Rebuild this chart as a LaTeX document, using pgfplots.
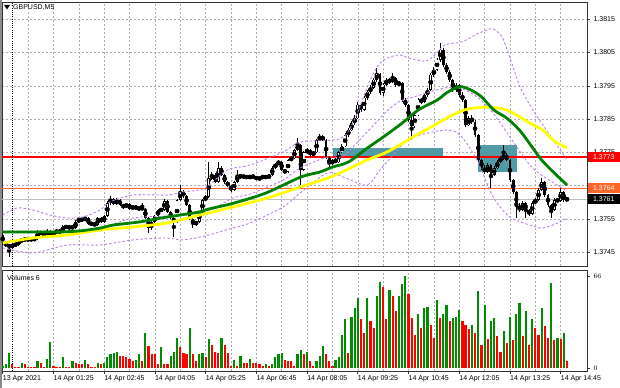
\documentclass[border=0pt]{standalone}
\usepackage{fontspec}
\setmainfont{Liberation Sans}
\usepackage{pgfplots}
\usepackage{pgfplotstable}
\pgfplotsset{compat=1.18}
\definecolor{maGreen}{RGB}{0,128,0}
\definecolor{maYellow}{RGB}{255,255,0}
\definecolor{bbViolet}{RGB}{190,130,225}
\definecolor{volGreen}{RGB}{0,140,0}
\definecolor{volRed}{RGB}{255,0,0}
\definecolor{lvlRed}{RGB}{255,0,0}
\definecolor{lvlOrange}{RGB}{255,100,40}
\definecolor{bidGray}{RGB}{190,190,190}
\definecolor{zoneTeal}{RGB}{80,155,165}
\definecolor{gridGray}{RGB}{175,175,175}

% GBPUSD M5 candles; prices in pips above 1.3700 (61.0 = 1.37610)
\pgfplotstableread{
i o h l c
0 50.2 50.8 47.2 47.8
1 47.8 48.1 46.6 47.2
2 47.2 47.5 43.6 46.6
3 46.6 47.8 46.0 47.2
4 47.2 47.8 46.7 47.3
5 47.3 48.8 47.0 48.4
6 48.4 49.1 48.1 48.7
7 48.7 49.3 48.4 49.0
8 49.0 49.3 48.4 48.7
9 48.7 49.3 48.5 49.0
10 49.0 49.3 48.6 48.9
11 48.9 51.6 48.7 51.1
12 51.1 51.4 50.2 50.5
13 50.5 50.8 49.9 50.2
14 50.2 51.9 49.9 51.4
15 51.4 51.7 49.5 49.9
16 49.9 51.5 49.6 51.1
17 51.1 51.8 50.6 51.4
18 51.4 51.7 50.8 51.1
19 51.1 53.3 50.9 52.9
20 52.9 53.2 52.0 52.3
21 52.3 52.9 52.1 52.6
22 52.6 53.0 52.1 52.3
23 52.3 54.6 52.0 54.1
24 54.1 55.6 53.8 55.0
25 55.0 55.4 54.3 54.7
26 54.7 55.8 54.4 55.3
27 55.3 55.6 53.2 53.5
28 53.5 53.9 53.2 53.6
29 53.6 53.9 52.8 53.2
30 53.2 55.7 52.9 55.3
31 55.3 55.6 53.8 54.1
32 54.1 56.3 53.8 55.9
33 55.9 60.4 55.6 59.8
34 59.8 61.9 59.2 61.0
35 61.0 61.3 59.1 59.5
36 59.5 61.3 59.2 60.7
37 60.7 61.0 58.9 59.2
38 59.2 59.6 58.1 58.6
39 58.6 59.9 58.3 59.5
40 59.5 59.8 57.7 58.0
41 58.0 59.3 57.7 58.9
42 58.9 59.2 57.7 58.0
43 58.0 58.6 57.7 58.3
44 58.3 59.8 57.6 58.0
45 58.0 58.4 55.0 55.3
46 55.3 55.6 50.8 52.3
47 52.3 54.5 51.8 54.1
48 54.1 56.2 53.8 55.9
49 55.9 58.1 55.6 57.7
50 57.7 58.1 57.3 57.8
51 57.8 60.9 57.5 60.4
52 60.4 60.7 56.8 57.1
53 57.1 57.4 55.0 55.3
54 55.3 55.6 49.6 54.1
55 54.1 61.0 53.8 60.7
56 60.7 65.2 60.4 63.1
57 63.1 63.7 61.3 61.9
58 61.9 62.2 58.9 59.2
59 59.2 59.5 54.7 55.0
60 55.0 55.4 52.3 53.5
61 53.5 54.5 53.0 54.1
62 54.1 57.5 53.8 57.1
63 57.1 61.0 56.8 60.7
64 60.7 62.2 60.4 61.6
65 61.6 72.1 61.3 67.3
66 67.3 69.1 66.7 68.2
67 68.2 68.8 65.8 66.1
68 66.1 72.1 65.8 70.3
69 70.3 70.9 67.9 68.2
70 68.2 68.5 65.5 66.1
71 66.1 66.4 64.6 64.9
72 64.9 65.2 63.1 63.7
73 63.7 66.4 63.4 66.1
74 66.1 69.7 65.8 68.2
75 68.2 68.6 67.0 67.6
76 67.6 68.2 67.3 67.9
77 67.9 68.2 67.0 67.3
78 67.3 68.3 67.0 67.9
79 67.9 68.2 67.3 67.6
80 67.6 67.9 66.7 67.0
81 67.0 67.7 66.7 67.3
82 67.3 68.2 67.0 67.9
83 67.9 68.2 67.0 67.3
84 67.3 68.6 67.0 68.2
85 68.2 70.8 67.9 70.3
86 70.3 71.9 70.0 71.5
87 71.5 72.7 71.2 72.1
88 72.1 72.4 69.4 69.7
89 69.7 70.0 68.5 69.1
90 69.1 73.0 68.8 72.7
91 72.7 73.9 72.4 73.3
92 73.3 76.0 73.0 75.7
93 75.7 79.3 75.4 77.2
94 77.2 77.5 65.2 69.7
95 69.7 75.5 69.4 75.1
96 75.1 76.3 74.5 75.7
97 75.7 76.0 73.6 74.2
98 74.2 75.5 73.9 75.1
99 75.1 79.0 74.8 78.7
100 78.7 80.5 78.4 79.6
101 79.6 80.2 78.4 78.7
102 78.7 79.0 73.0 73.3
103 73.3 73.6 70.3 71.5
104 71.5 73.0 71.2 72.7
105 72.7 73.3 71.8 72.1
106 72.1 75.5 71.8 75.1
107 75.1 77.5 74.8 76.9
108 76.9 80.8 76.6 80.2
109 80.2 82.3 79.6 81.7
110 81.7 84.4 81.4 83.8
111 83.8 86.2 83.2 85.3
112 85.3 90.2 85.0 89.3
113 89.3 90.1 87.2 87.8
114 87.8 92.0 87.5 91.4
115 91.4 93.8 90.8 93.2
116 93.2 95.3 92.6 94.4
117 94.4 97.4 94.1 96.8
118 96.8 100.4 96.2 98.6
119 98.6 98.9 92.3 92.9
120 92.9 95.9 92.0 95.3
121 95.3 97.4 95.0 96.8
122 96.8 97.4 95.6 96.2
123 96.2 98.9 95.9 97.4
124 97.4 97.7 94.7 95.3
125 95.3 96.5 95.0 95.9
126 95.9 96.2 90.2 90.8
127 90.8 91.4 88.7 89.3
128 89.3 89.6 84.1 84.7
129 84.7 85.6 78.7 82.9
130 82.9 86.8 82.3 86.2
131 86.2 91.4 85.9 90.8
132 90.8 91.4 89.6 90.2
133 90.2 92.9 89.9 92.2
134 92.2 94.4 91.6 93.8
135 93.8 98.9 93.5 98.3
136 98.3 100.7 97.7 99.8
137 99.8 103.4 99.5 102.8
138 102.8 107.9 102.2 105.8
139 105.8 106.4 100.7 101.3
140 101.3 101.9 98.6 99.2
141 99.2 99.8 96.2 96.8
142 96.8 97.1 93.2 93.8
143 93.8 95.9 93.2 95.3
144 95.3 95.6 91.6 92.2
145 92.2 93.2 90.2 90.8
146 90.8 91.1 82.6 83.2
147 83.2 85.9 82.9 85.3
148 85.3 86.2 83.5 84.1
149 84.1 84.7 79.6 80.2
150 80.2 80.5 72.1 72.7
151 72.7 73.0 69.7 70.3
152 70.3 71.2 68.5 69.1
153 69.1 71.8 68.8 71.2
154 71.2 71.5 64.3 68.2
155 68.2 70.9 67.9 70.3
156 70.3 72.7 70.0 72.1
157 72.1 73.9 71.8 73.3
158 73.3 77.2 72.7 74.2
159 74.2 74.8 72.4 72.7
160 72.7 73.0 66.1 66.7
161 66.7 67.0 62.5 63.1
162 63.1 63.4 55.3 58.6
163 58.6 59.8 57.1 57.7
164 57.7 60.4 57.4 59.8
165 59.8 60.1 55.3 57.7
166 57.7 58.0 55.9 56.5
167 56.5 60.4 56.2 59.8
168 59.8 61.3 59.5 60.7
169 60.7 64.3 60.4 63.7
170 63.7 67.3 63.4 66.1
171 66.1 66.4 61.6 62.2
172 62.2 62.5 58.6 59.2
173 59.2 59.5 55.3 57.7
174 57.7 61.3 57.4 60.7
175 60.7 61.3 59.9 60.5
176 60.5 64.3 60.2 63.1
177 63.1 63.4 60.1 60.7
178 60.7 61.6 60.4 61.0
}\candles

% tick volumes; g=1 green (higher than previous bar), g=0 red
\pgfplotstableread{
i v g
0 2 1
1 3 1
2 11 1
3 3 0
4 1 0
5 1 0
6 4 1
7 3 0
8 1 0
9 1 0
10 1 0
11 5 1
12 4 0
13 1 0
14 7 1
15 19 1
16 2 0
17 1 0
18 1 0
19 8 1
20 1 0
21 1 0
22 5 1
23 4 0
24 3 0
25 3 0
26 6 1
27 3 0
28 1 0
29 1 0
30 4 1
31 3 0
32 4 1
33 8 1
34 10 1
35 11 1
36 12 1
37 9 0
38 9 0
39 8 0
40 7 0
41 5 0
42 6 1
43 10 1
44 5 0
45 25 1
46 16 0
47 10 0
48 10 0
49 3 0
50 15 1
51 3 0
52 3 0
53 9 1
54 12 1
55 22 1
56 15 0
57 11 0
58 10 0
59 29 1
60 10 0
61 5 0
62 10 1
63 11 1
64 8 0
65 21 1
66 17 0
67 12 0
68 11 0
69 22 1
70 17 0
71 11 0
72 2 0
73 6 1
74 2 0
75 9 1
76 4 0
77 4 0
78 7 1
79 4 0
80 4 0
81 3 0
82 2 0
83 3 1
84 2 0
85 3 1
86 8 1
87 10 1
88 11 1
89 6 0
90 5 0
91 5 0
92 2 0
93 10 1
94 13 1
95 10 0
96 12 1
97 5 0
98 2 0
99 5 1
100 9 1
101 16 1
102 10 0
103 5 0
104 2 0
105 6 1
106 8 1
107 24 1
108 35 1
109 11 0
110 37 1
111 43 1
112 50 1
113 35 0
114 25 0
115 50 1
116 34 0
117 29 0
118 52 1
119 62 1
120 58 0
121 35 0
122 56 1
123 52 0
124 41 0
125 52 1
126 60 1
127 66 1
128 53 0
129 36 0
130 24 0
131 39 1
132 29 0
133 43 1
134 44 1
135 31 0
136 22 0
137 49 1
138 36 0
139 39 1
140 45 1
141 34 0
142 36 1
143 37 1
144 42 1
145 34 0
146 31 0
147 28 0
148 31 1
149 25 0
150 55 1
151 17 0
152 45 1
153 21 0
154 34 1
155 36 1
156 23 0
157 12 0
158 27 1
159 18 0
160 37 1
161 20 0
162 39 1
163 47 1
164 23 0
165 41 1
166 17 0
167 35 1
168 29 0
169 24 0
170 43 1
171 30 0
172 22 0
173 61 1
174 20 0
175 22 1
176 21 0
177 25 1
178 5 0
}\vols

\begin{document}
\begin{tikzpicture}[font=\fontsize{7bp}{8.4bp}\selectfont]
\path[use as bounding box, fill=white] (0,0) rectangle (620bp,388bp);
\fill[black!45] (0,0) rectangle (1.5bp,388bp);

% ---------------- price panel ----------------
\begin{axis}[
  at={(2bp,122bp)}, anchor=south west,
  width=585bp, height=264bp, scale only axis,
  xmin=-0.22, xmax=184.3, ymin=40.88, ymax=120.19,
  clip mode=individual,
  axis line style={draw=black!80, line width=0.8bp},
  xtick={0,16,...,176}, xticklabels={}, minor x tick num=1,
  xtick style={draw=none},
  xmajorgrids, xminorgrids, ymajorgrids,
  grid style={draw=gridGray, dash pattern=on 2bp off 2bp, line width=0.5bp},
  minor grid style={draw=gridGray, dash pattern=on 2bp off 2bp, line width=0.5bp},
  ytick={45,55,65,75,85,95,105,115},
  yticklabels={1.3745,1.3755,1.3765,1.3775,1.3785,1.3795,1.3805,1.3815},
  ytick pos=right, yticklabel pos=right,
  ytick style={draw=black!80, line width=0.6bp},
  tick align=outside, major tick length=3bp,
  tick label style={font=\fontsize{7bp}{8.4bp}\selectfont, text=black},
]
% zones
\addplot[fill=zoneTeal, draw=none, forget plot] coordinates {(104.2,73.2) (138.9,73.2) (138.9,76.3) (104.2,76.3)} --cycle;
\addplot[fill=zoneTeal, draw=none, forget plot] coordinates {(149.9,69.1) (162.2,69.1) (162.2,77.2) (149.9,77.2)} --cycle;
% levels
\addplot[lvlRed, line width=2bp, forget plot] coordinates {(-1,73.5) (186,73.5)};
\addplot[lvlOrange, line width=1bp, forget plot] coordinates {(-1,64.2) (186,64.2)};
\addplot[bidGray, line width=0.8bp, forget plot] coordinates {(-1,61.0) (186,61.0)};
% period separator
\draw[black, line width=0.7bp, dash pattern=on 1bp off 1.2bp] (axis cs:3,40.88) -- (axis cs:3,120.19);

% candles: wicks
\addplot[only marks, mark=none, forget plot,
  error bars/.cd, y dir=both, y explicit, error mark=none,
  error bar style={line width=0.9bp, black}]
  table[x=i, y expr={(\thisrow{h}+\thisrow{l})/2}, y error expr={(\thisrow{h}-\thisrow{l})/2}] {\candles};
% bodies
\addplot[only marks, mark=none, forget plot,
  error bars/.cd, y dir=both, y explicit, error mark=none,
  error bar style={line width=2.8bp, black}]
  table[x=i, y expr={(\thisrow{o}+\thisrow{c})/2}, y error expr={max(abs(\thisrow{c}-\thisrow{o})/2,0.15)}] {\candles};
% bull body interiors
\addplot[only marks, mark=none, forget plot,
  restrict expr to domain={\thisrow{c}-\thisrow{o}}{0.4:1000},
  error bars/.cd, y dir=both, y explicit, error mark=none,
  error bar style={line width=1.3bp, white}]
  table[x=i, y expr={(\thisrow{o}+\thisrow{c})/2}, y error expr={(\thisrow{c}-\thisrow{o})/2-0.17}] {\candles};

% Bollinger bands
\addplot[bbViolet, line width=0.9bp, dash pattern=on 2.5bp off 2bp, smooth, forget plot] coordinates {
(0,56.2) (4.5,58.3) (9.6,57.7) (14.9,56.2) (20.3,55.3) (25.3,55.6) (30.7,57.7) (33.8,60.1) (41.1,62.2) (51.8,62.2) (56.9,63.1) (63.8,64.3) (70.8,69.7) (78,71.2) (88.4,75.1) (93.8,78.1) (104.2,78.7) (108,80) (110.5,84) (113,89.5) (116,97) (119,101.8) (122,103.6) (125.3,104.3) (128,103.4) (133.2,102.4) (136,104) (139.5,107.3) (144.9,108.2) (149,110.3) (152.8,111.8) (154.7,112.1) (157.5,109.7) (160,103.4) (163.2,94.7) (167.3,87.7) (170.4,83.2) (174.9,77.0) (178,72.7)};
\addplot[bbViolet, line width=0.9bp, dash pattern=on 2.5bp off 2bp, smooth, forget plot] coordinates {
(0,51.4) (9.6,51.4) (20.3,51.4) (30.7,52.3) (41.1,55.3) (51.8,55.9) (63.8,57.1) (72.6,61.3) (78,62.5) (88.4,66.7) (93.8,70.3) (102.3,73.6) (107.4,73.9) (114.9,81.1) (121.2,87.4) (125.3,90.4) (129.4,91.6) (139.5,94.4) (144.9,94.1) (149.6,91.7) (154.7,86.8) (160,79.6) (166.3,71.2) (170.4,67.9) (178,63.4)};
\addplot[bbViolet, line width=0.9bp, dash pattern=on 2.5bp off 2bp, smooth, forget plot] coordinates {
(0,46.3) (9.6,44.8) (20.3,47.2) (30.7,47.2) (41.1,48.7) (51.8,49.3) (56.6,48.7) (63.8,49.9) (72.6,52.3) (78,53.8) (88.4,58.6) (93.8,62.8) (102.3,68.8) (107.4,67.6) (114.9,65.2) (119,69.7) (125.3,76.6) (129.4,79.6) (139.5,81.7) (144.3,80.2) (149.6,72.7) (154.7,61.6) (160,55.6) (166.3,53.2) (170.4,52.3) (175.8,54.1) (178,55.3)};

% moving averages
\addplot[maYellow, line width=2.8bp, smooth, forget plot] coordinates {
(0,47.8) (9.6,49.3) (20.3,50.2) (30.7,51.7) (41.1,52.6) (51.8,53.8) (62.3,56.2) (72.6,58.6) (83.4,61.3) (93.8,64.6) (104.2,67.9) (114.9,72.7) (121.2,75.1) (129.4,79.6) (137.3,83.8) (142,86.3) (146.5,88.0) (152.8,88.6) (159.1,87.7) (166.3,83.8) (170.4,81.7) (173.6,78.7) (178,76.3)};
\addplot[maGreen, line width=2.8bp, smooth, forget plot] coordinates {
(0,51.1) (9,51.1) (18,51.1) (24,51.4) (29,52.0) (31,52.3) (35,53.2) (43,54.1) (50,55.3) (56,56.2) (62,57.1) (65,58.0) (73,59.8) (83,62.8) (94,67.6) (100,69.1) (104,70.6) (109,72.1) (115,76.3) (120,79.6) (126,83.8) (131,87.7) (137,90.7) (140,92.9) (143,94.4) (145,94.7) (148,93.6) (151,91.7) (155,87.7) (159,85.3) (163,81.7) (167,76.6) (170,72.7) (174,68.8) (178,65.2)};

\coordinate (Lred) at (axis cs:184.3,73.5);
\coordinate (Lora) at (axis cs:184.3,64.2);
\coordinate (Lbid) at (axis cs:184.3,61.0);
\end{axis}

% ---------------- volume panel ----------------
\begin{axis}[
  at={(2bp,17bp)}, anchor=south west,
  width=585bp, height=101bp, scale only axis,
  xmin=-0.22, xmax=184.3, ymin=-1.8, ymax=70.3,
  clip mode=individual,
  axis line style={draw=black!80, line width=0.8bp},
  xtick={0,16,...,176},
  xticklabels={{13 Apr 2021},{14 Apr 01:25},{14 Apr 02:45},{14 Apr 04:05},{14 Apr 05:25},{14 Apr 06:45},{14 Apr 08:05},{14 Apr 09:25},{14 Apr 10:45},{14 Apr 12:05},{14 Apr 13:25},{14 Apr 14:45}},
  minor x tick num=1, minor tick length=0pt,
  xmajorgrids, xminorgrids,
  grid style={draw=gridGray, dash pattern=on 2bp off 2bp, line width=0.5bp},
  minor grid style={draw=gridGray, dash pattern=on 2bp off 2bp, line width=0.5bp},
  xtick pos=left,
  ytick={0,66}, ytick pos=right, yticklabel pos=right,
  tick style={draw=black!80, line width=0.6bp},
  tick align=outside, major tick length=3bp,
  tick label style={font=\fontsize{7bp}{8.4bp}\selectfont, text=black},
  xticklabel style={anchor=north west, inner sep=0pt, yshift=-1bp},
]
\draw[black, line width=0.7bp, dash pattern=on 1bp off 1.2bp] (axis cs:3,-1.8) -- (axis cs:3,70.3);
\addplot[ycomb, volGreen, line width=2.2bp, forget plot,
  restrict expr to domain={\thisrow{g}}{0.5:1.5}] table[x=i, y=v] {\vols};
\addplot[ycomb, volRed, line width=2.2bp, forget plot,
  restrict expr to domain={\thisrow{g}}{-0.5:0.5}] table[x=i, y=v] {\vols};
\end{axis}

% labels and price boxes
\fill[black] (4bp,383bp) -- (10bp,383bp) -- (7bp,378.5bp) -- cycle;
\node[anchor=west, inner sep=0pt] at (13bp,380.5bp) {GBPUSD,M5};
\node[anchor=west, inner sep=0pt] at (7bp,110bp) {Volumes 6};
\node[fill=lvlRed, text=white, anchor=west, inner xsep=0pt, inner ysep=1.4bp, minimum width=32bp, minimum height=10bp] at ([xshift=0.6bp]Lred) {1.3773};
\node[fill=lvlOrange, text=white, anchor=west, inner xsep=0pt, inner ysep=1.4bp, minimum width=32bp, minimum height=10bp] at ([xshift=0.6bp]Lora) {1.3764};
\node[fill=black, text=white, anchor=west, inner xsep=0pt, inner ysep=1.4bp, minimum width=32bp, minimum height=10bp] at ([xshift=0.6bp]Lbid) {1.3761};
\end{tikzpicture}
\end{document}
